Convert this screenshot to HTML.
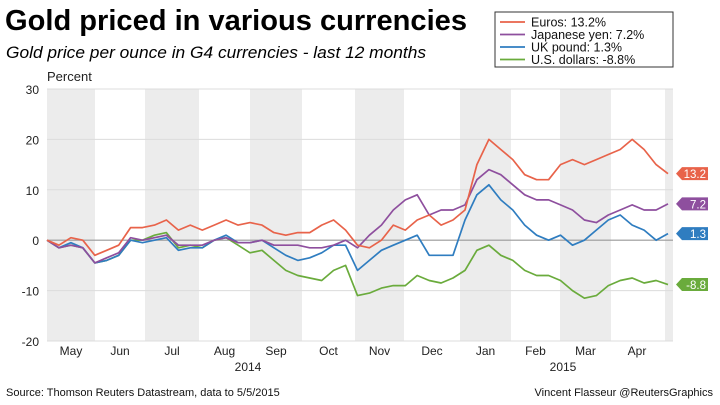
<!DOCTYPE html>
<html><head><meta charset="utf-8"><style>
body{margin:0;background:#fff;font-family:"Liberation Sans",Arial,sans-serif;}
#wrap{position:relative;width:720px;height:405px;overflow:hidden;}
</style></head><body>
<div id="wrap">
<svg id="svg" width="720" height="405" xmlns="http://www.w3.org/2000/svg" font-family="Liberation Sans, Arial, sans-serif">
<text x="5" y="30" font-size="29" font-weight="bold" fill="#000" textLength="462" lengthAdjust="spacingAndGlyphs">Gold priced in various currencies</text>
<text x="6" y="58" font-size="16.5" font-style="italic" fill="#000" textLength="420" lengthAdjust="spacingAndGlyphs">Gold price per ounce in G4 currencies - last 12 months</text>
<text x="47" y="81" font-size="13" fill="#222">Percent</text>
<g id="bands"></g><g id="grid"></g><g id="series"></g><g id="tags"></g>
<g>
<rect x="495" y="12" width="178" height="55" fill="#fff" stroke="#333" stroke-width="1"/>
</g>
<g id="legend"></g>
<text x="6" y="396" font-size="11" fill="#111">Source: Thomson Reuters Datastream, data to 5/5/2015</text>
<text x="713" y="396" font-size="11" fill="#111" text-anchor="end">Vincent Flasseur @ReutersGraphics</text>
</svg>
</div>
<script>
const yTicks=[30,20,10,0,-10,-20];
const months=["May","Jun","Jul","Aug","Sep","Oct","Nov","Dec","Jan","Feb","Mar","Apr"];
const years=["2014","2015"];
const seriesNames=["Euros: 13.2%","Japanese yen: 7.2%","UK pound: 1.3%","U.S. dollars: -8.8%"];
const endLabels=["13.2","7.2","1.3","-8.8"];
const euro=[0,-1,0.5,0,-3,-2,-1,2.5,2.5,3,4,2,3,2,3,4,3,3.5,3,1.5,1,1.5,1.5,3,4,2,-1,-1.5,0,3,2,4,5,3,4,6,15,20,18,16,13,12,12,15,16,15,16,17,18,20,18,15,13.2];
const yen=[0,-1.5,-1,-1.5,-4.5,-3.5,-2.5,0.5,0,0.5,1,-1,-1,-1,0,0.5,-0.5,-0.5,0,-1,-1,-1,-1.5,-1.5,-1,0,-1.5,1,3,6,8,9,5,6,6,7,12,14,13,11,9,8,8,7,6,4,3.5,5,6,7,6,6,7.2];
const gbp=[0,-1.5,-0.5,-1.5,-4.5,-4,-3,0,-0.5,0,0.5,-2,-1.5,-1.5,0,1,-0.5,-0.5,0,-1.5,-3,-4,-3.5,-2.5,-1,-1,-6,-4,-2,-1,0,1,-3,-3,-3,4,9,11,8,6,3,1,0,1,-1,0,2,4,5,3,2,0,1.3];
const usd=[0,-1.5,-1,-1.5,-4.5,-4,-3,0,0,1,1.5,-1.5,-1,-1.5,0,0.5,-1,-2.5,-2,-4,-6,-7,-7.5,-8,-6,-5,-11,-10.5,-9.5,-9,-9,-7,-8,-8.5,-7.5,-6,-2,-1,-3,-4,-6,-7,-7,-8,-10,-11.5,-11,-9,-8,-7.5,-8.5,-8,-8.8];
const colors=["#e8634a","#8e4f9e","#2f7dc0","#6aab3c"];
const NS="http://www.w3.org/2000/svg";
const X0=47,X1=673,Y0=89,Y1=341;
const y=v=>Y0+(30-v)/50*(Y1-Y0);
const xw=i=>X0+i*(668-X0)/52;
const monthEdges=[47,95,145,199,250,302,355,404,460,511,560,611,665,673];
function mk(tag,attrs,parent){const e=document.createElementNS(NS,tag);for(const k in attrs)e.setAttribute(k,attrs[k]);parent.appendChild(e);return e;}
const bands=document.getElementById('bands');
for(let m=0;m<13;m+=2){
 const r=mk('rect',{x:monthEdges[m],y:Y0,width:monthEdges[m+1]-monthEdges[m],height:Y1-Y0,fill:'#ececec'},bands);
 
 
}
const grid=document.getElementById('grid');
yTicks.forEach(t=>{
 const l=mk('line',{x1:X0,x2:X1,y1:y(t),y2:y(t),stroke:t===0?'#999':'#dcdcdc','stroke-width':t===0?1.2:1},grid);
 
 
 const tx=mk('text',{x:39,y:y(t)+5,'font-size':12,'text-anchor':'end',fill:'#222'},grid);
 tx.textContent=t;
 
 
});
months.forEach((m,i)=>{
 const cx=(monthEdges[i]+monthEdges[i+1])/2;
 const tx=mk('text',{x:i===11?637:cx,y:355,'font-size':12,'text-anchor':'middle',fill:'#222'},grid);
 tx.textContent=m;
 
 
});
[[248,years[0]],[563,years[1]]].forEach(([xx,t])=>{
 const tx=mk('text',{x:xx,y:371,'font-size':12,'text-anchor':'middle',fill:'#222'},grid);
 tx.textContent=t;
 
 
});
const all=[euro,yen,gbp,usd];
const sg=document.getElementById('series');
const names=['euro-line','yen-line','pound-line','dollar-line'];
all.slice().reverse().forEach((s,ri)=>{
 const k=3-ri;
 const d=s.map((v,i)=>(i?'L':'M')+xw(i).toFixed(1)+','+y(v).toFixed(1)).join('');
 const p=mk('path',{d:d,fill:'none',stroke:colors[k],'stroke-width':1.7,'stroke-linejoin':'round'},sg);
 
 
});
const tg=document.getElementById('tags');
all.forEach((s,k)=>{
 const v=s[s.length-1],cy=y(v);
 const p=mk('path',{d:`M676,${cy}L682,${cy-6.5}L708,${cy-6.5}L708,${cy+6.5}L682,${cy+6.5}Z`,fill:colors[k]},tg);
 
 
 const t=mk('text',{x:706,y:cy+4.5,'font-size':11.5,'text-anchor':'end',fill:'#fff'},tg);
 t.textContent=endLabels[k];
 
 
});
const lg=document.getElementById('legend');
seriesNames.forEach((n,k)=>{
 const yy=22+k*12.5;
 const l=mk('line',{x1:500,x2:525,y1:yy,y2:yy,stroke:colors[k],'stroke-width':1.8},lg);
 
 
 const t=mk('text',{x:531,y:yy+4.5,'font-size':12.5,fill:'#111'},lg);
 t.textContent=n;
 
 
});
</script>
</body></html>
